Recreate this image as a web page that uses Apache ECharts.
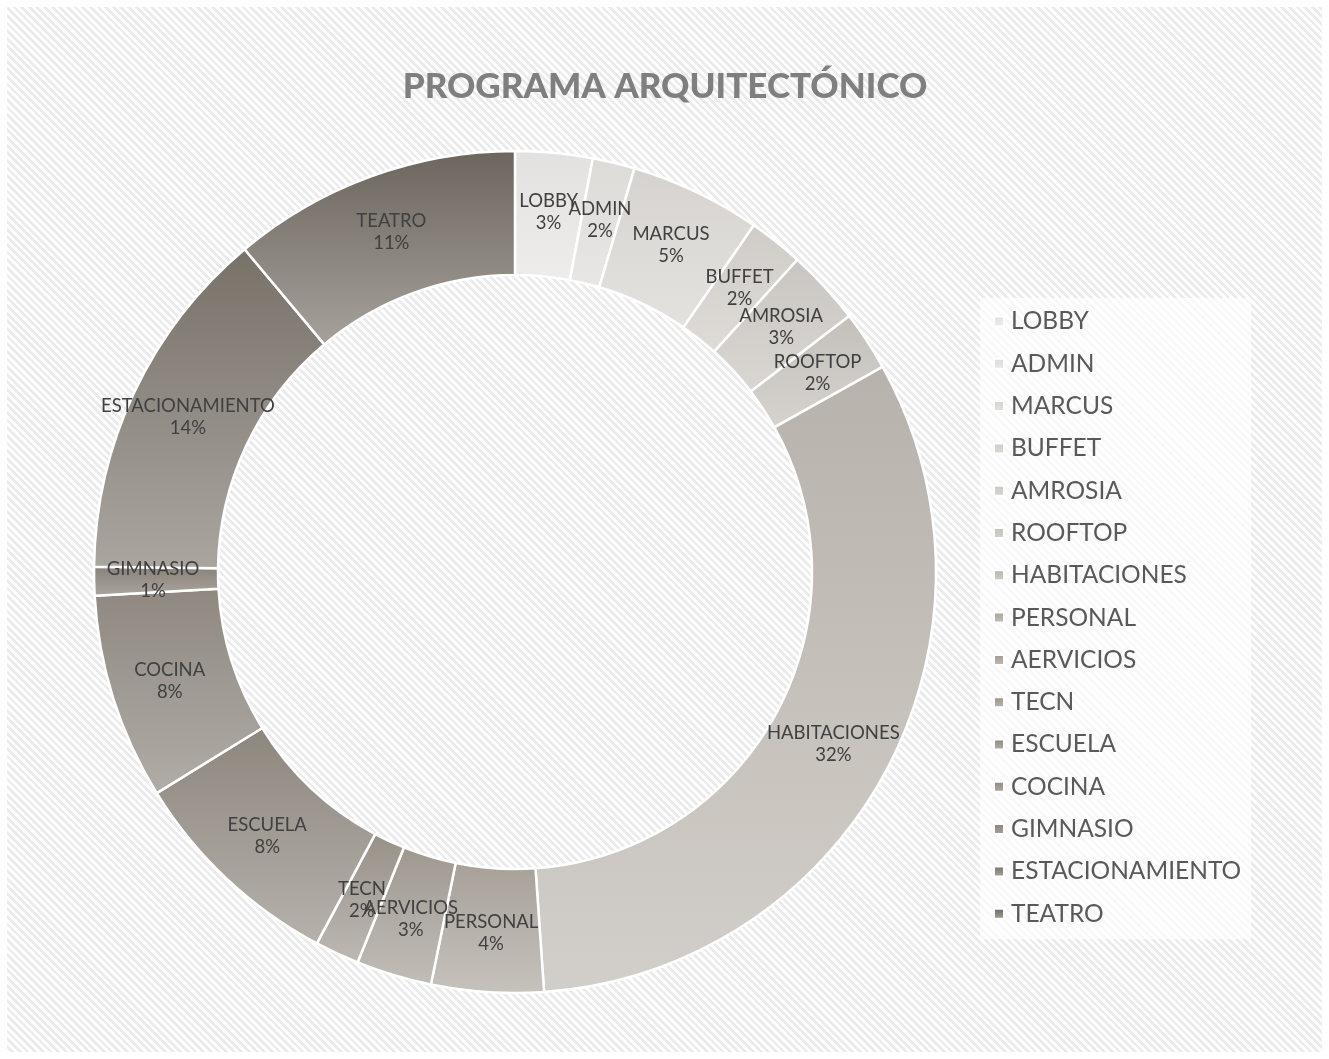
<!DOCTYPE html>
<html>
<head>
<meta charset="utf-8">
<script src="https://cdn.jsdelivr.net/npm/echarts@6/dist/echarts.min.js"></script>
<style>
html,body{margin:0;padding:0;background:#fff;width:1329px;height:1059px;overflow:hidden;}
#bg{position:absolute;left:7px;top:7px;width:1315px;height:1045px;
background:repeating-linear-gradient(45deg,#ffffff 0px,#ffffff 2.7px,#ebebeb 2.7px,#ebebeb 5.4px);}
#chart{position:absolute;left:0;top:0;width:1329px;height:1059px;}
</style>
</head>
<body>
<div id="bg"></div>
<div id="chart"></div>
<script>
var categories = ['LOBBY','ADMIN','MARCUS','BUFFET','AMROSIA','ROOFTOP','HABITACIONES','PERSONAL','AERVICIOS','TECN','ESCUELA','COCINA','GIMNASIO','ESTACIONAMIENTO','TEATRO'];
var values = [2.96, 1.62, 5.02, 2.1, 2.9, 2.3, 32.0, 4.3, 2.9, 1.7, 8.4, 7.9, 1.1, 13.7, 11.1];

var topColors = ['#e3e1df','#dddbd8','#d6d3cf','#cfccc7','#c9c5c0','#c3bfb9','#b7b2ab','#a6a098','#9e988f','#979188','#8c867d','#8e8880','#878178','#777168','#6b655d'];
var bottomColors = ['#eeedec','#e9e7e5','#e4e2df','#dfdcd8','#dad7d3','#d6d2ce','#d2cec9','#c6c2bc','#c1bdb7','#bdb8b2','#b6b1ab','#b0aca6','#aaa59f','#aaa59f','#a6a19a'];

var chart = echarts.init(document.getElementById('chart'), null, {renderer:'canvas'});
var data = categories.map(function(name, i){
  return {
    name: name,
    value: values[i],
    itemStyle: {
      color: new echarts.graphic.LinearGradient(0,0,0,1,[
        {offset:0, color: topColors[i]},
        {offset:1, color: bottomColors[i]}
      ])
    }
  };
});
var FONT = 'Lato, "Open Sans", sans-serif';
chart.setOption({
  backgroundColor: 'transparent',
  animation: false,
  title: {
    text: 'PROGRAMA ARQUITECTÓNICO',
    left: 660, top: 64,
    textAlign: 'center',
    textStyle: {fontFamily: FONT, fontSize: 35, fontWeight: 900, color: '#7f7f7f'}
  },
  legend: {
    orient: 'vertical',
    left: 980, top: 298,
    padding: [11, 10, 13, 13],
    backgroundColor: 'rgba(255,255,255,0.65)',
    itemWidth: 10, itemHeight: 10,
    itemGap: 17.3,
    icon: 'rect',
    data: categories,
    textStyle: {fontFamily: FONT, fontSize: 24.5, color: '#595959', lineHeight: 24, padding:[0,0,0,2]}
  },
  series: [{
    type: 'pie',
    center: [515, 572],
    radius: [297, 421],
    startAngle: 90,
    clockwise: true,
    avoidLabelOverlap: false,
    data: data,
    itemStyle: {borderColor: '#ffffff', borderWidth: 2.5},
    label: {
      show: true,
      position: 'inside',
      fontFamily: FONT,
      fontSize: 18.5,
      color: '#404040',
      lineHeight: 22,
      formatter: function(p){ return p.name + '\n' + Math.round(p.percent) + '%'; }
    },
    labelLayout: {hideOverlap: false},
    labelLine: {show: false},
    emphasis: {disabled: true}
  }]
});
</script>
</body>
</html>
